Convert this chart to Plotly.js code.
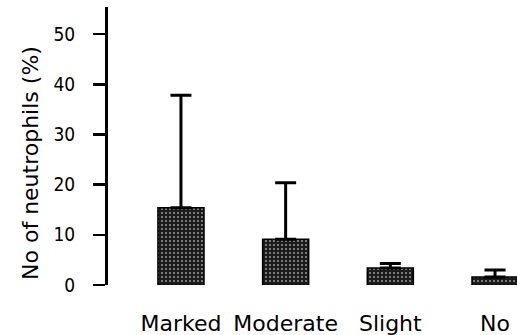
<!DOCTYPE html>
<html>
<head>
<meta charset="utf-8">
<script src="https://cdn.plot.ly/plotly-3.0.1.min.js"></script>
<style>html,body{margin:0;padding:0;background:#fff;}#chart{width:517px;height:335px;}</style>
</head>
<body>
<div id="chart"></div>
<script>
var categories = ['Marked', 'Moderate', 'Slight', 'No'];
var means = [15.4, 9.1, 3.4, 1.6];
var sdUpper = [22.4, 11.3, 0.9, 1.4];
var sdLower = [0, 0, 0, 0];
var yTicks = [0, 10, 20, 30, 40, 50];
var yTitle = 'No of neutrophils (%)';

var trace = {
  type: 'bar',
  x: categories,
  y: means,
  width: 0.44,
  marker: {
    color: '#1c1c1c',
    line: {color: '#000', width: 1.5},
    pattern: {shape: '.', bgcolor: '#1c1c1c', fgcolor: '#9a9a9a', size: 4, solidity: 0.2, fillmode: 'replace'}
  },
  error_y: {
    type: 'data',
    symmetric: false,
    array: sdUpper,
    arrayminus: sdLower,
    color: '#000',
    thickness: 3,
    width: 10.5
  },
  hoverinfo: 'none'
};

var layout = {
  width: 517,
  height: 335,
  margin: {l: 108, r: 0, t: 7, b: 50},
  paper_bgcolor: '#fff',
  plot_bgcolor: '#fff',
  showlegend: false,
  xaxis: {
    type: 'category',
    range: [-0.697, 3.21],
    showline: false,
    showgrid: false,
    zeroline: false,
    ticks: 'outside',
    ticklen: 19,
    tickcolor: 'rgba(0,0,0,0)',
    tickfont: {family: 'DejaVu Sans, Verdana, sans-serif', size: 22, color: '#000'}
  },
  yaxis: {
    range: [0, 55.4],
    tickvals: yTicks,
    ticktext: yTicks.map(String),
    showline: true,
    linecolor: '#000',
    linewidth: 3,
    showgrid: false,
    zeroline: false,
    ticks: 'outside',
    ticklen: 12,
    tickwidth: 2.5,
    tickcolor: '#000',
    ticklabelstandoff: 14,
    tickfont: {family: 'Liberation Sans Narrow, DejaVu Sans Condensed, Arial Narrow, sans-serif', size: 19, color: '#000'}
  },
  annotations: [{
    text: yTitle,
    xref: 'paper', yref: 'paper',
    x: -0.19, y: 0.44,
    xanchor: 'center', yanchor: 'middle',
    textangle: -90,
    showarrow: false,
    font: {family: 'DejaVu Sans, Verdana, sans-serif', size: 22, color: '#000'}
  }]
};

Plotly.newPlot('chart', [trace], layout, {displayModeBar: false, staticPlot: true});
</script>
</body>
</html>
